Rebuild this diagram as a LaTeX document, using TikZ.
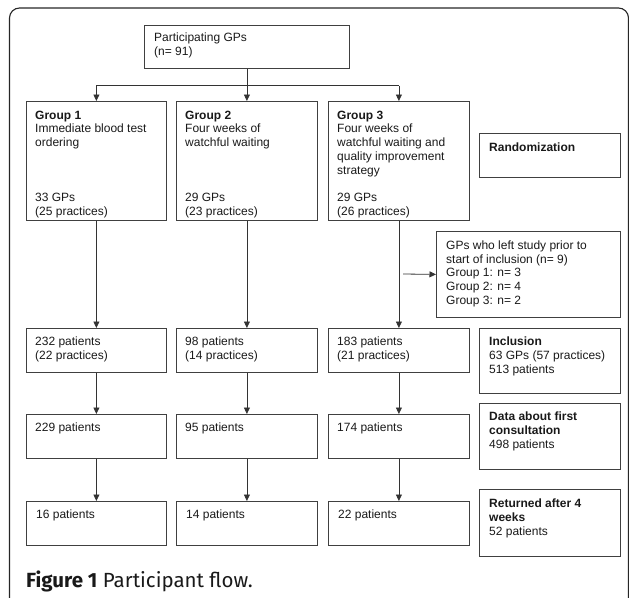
\documentclass[tikz,border=0pt]{standalone}
\usepackage{fontspec}
\setmainfont{Liberation Sans}
\newfontfamily\capfont{Fira Sans}
\usetikzlibrary{arrows.meta}
\begin{document}
\begin{tikzpicture}[x=1pt,y=-1pt,
  box/.style={draw=black!75, line width=0.8pt, anchor=north west, inner sep=0pt},
  txt/.style={anchor=north west, inner sep=0pt, align=left, font=\fontsize{12}{13.8}\selectfont, text=black!90},
  arr/.style={draw=black!80, line width=0.8pt, -{Triangle[length=6.5pt,width=6pt]}},
  ln/.style={draw=black!80, line width=0.8pt},
  frame/.style={draw=black!85, line width=1.1pt, rounded corners=10pt}]
\useasboundingbox (0,0) rectangle (629,597);
% outer frame (open at the bottom)
\draw[frame] (9.5,610) -- (9.5,8) -- (628.5,8) -- (628.5,610);

% boxes
\node[box, minimum width=205pt, minimum height=43pt] (top) at (144,25) {};
\node[box, minimum width=140pt, minimum height=119pt] (g1) at (26,101) {};
\node[box, minimum width=141pt, minimum height=119pt] (g2) at (176,101) {};
\node[box, minimum width=141pt, minimum height=119pt] (g3) at (328,101) {};
\node[box, minimum width=141pt, minimum height=44pt] (rand) at (479,133) {};
\node[box, minimum width=184pt, minimum height=86pt] (left) at (436,231) {};
\node[box, minimum width=140pt, minimum height=44pt] (i1) at (26,328) {};
\node[box, minimum width=141pt, minimum height=44pt] (i2) at (176,328) {};
\node[box, minimum width=141pt, minimum height=44pt] (i3) at (328,328) {};
\node[box, minimum width=141pt, minimum height=65pt] (incl) at (479,328) {};
\node[box, minimum width=140pt, minimum height=44pt] (d1) at (26,414) {};
\node[box, minimum width=141pt, minimum height=44pt] (d2) at (176,414) {};
\node[box, minimum width=141pt, minimum height=44pt] (d3) at (328,414) {};
\node[box, minimum width=141pt, minimum height=66pt] (data) at (479,403) {};
\node[box, minimum width=140pt, minimum height=44pt] (r1) at (26,501) {};
\node[box, minimum width=141pt, minimum height=44pt] (r2) at (176,501) {};
\node[box, minimum width=141pt, minimum height=44pt] (r3) at (328,501) {};
\node[box, minimum width=141pt, minimum height=67pt] (ret) at (479,489) {};

% texts
\node[txt] (topt) at ([shift={(10,7.5)}]top.north west) {Participating GPs\\(n= 91)};
\node[txt] (g1t) at ([shift={(9,9.5)}]g1.north west) {\textbf{Group 1}\\Immediate blood test\\ordering\\[41.4pt]33 GPs\\(25 practices)};
\node[txt] (g2t) at ([shift={(9,9.5)}]g2.north west) {\textbf{Group 2}\\Four weeks of\\watchful waiting\\[41.4pt]29 GPs\\(23 practices)};
\node[txt] (g3t) at ([shift={(9,9.5)}]g3.north west) {\textbf{Group 3}\\Four weeks of\\watchful waiting and\\quality improvement\\strategy\\[13.8pt]29 GPs\\(26 practices)};
\node[txt] (randt) at ([shift={(10,10)}]rand.north west) {\textbf{Randomization}};
\node[txt] (leftt) at ([shift={(10,9.5)}]left.north west) {GPs who left study prior to\\start of inclusion (n= 9)\\Group 1: n= 3\\Group 2: n= 4\\Group 3: n= 2};
\node[txt] (i1t) at ([shift={(9,9)}]i1.north west) {232 patients\\(22 practices)};
\node[txt] (i2t) at ([shift={(9,9)}]i2.north west) {98 patients\\(14 practices)};
\node[txt] (i3t) at ([shift={(9,9)}]i3.north west) {183 patients\\(21 practices)};
\node[txt] (inclt) at ([shift={(10,9)}]incl.north west) {\textbf{Inclusion}\\63 GPs (57 practices)\\513 patients};
\node[txt] (d1t) at ([shift={(9,9)}]d1.north west) {229 patients};
\node[txt] (d2t) at ([shift={(9,9)}]d2.north west) {95 patients};
\node[txt] (d3t) at ([shift={(9,9)}]d3.north west) {174 patients};
\node[txt] (datat) at ([shift={(10,9)}]data.north west) {\textbf{Data about first}\\\textbf{consultation}\\498 patients};
\node[txt] (r1t) at ([shift={(10,9)}]r1.north west) {16 patients};
\node[txt] (r2t) at ([shift={(10,9)}]r2.north west) {14 patients};
\node[txt] (r3t) at ([shift={(10,9)}]r3.north west) {22 patients};
\node[txt] (rett) at ([shift={(10,10)}]ret.north west) {\textbf{Returned after 4}\\\textbf{weeks}\\52 patients};

% connectors
\coordinate (split) at ([yshift=-17pt]top.south);
\coordinate (s1) at (g1.north |- split);
\coordinate (s3) at (g3.north |- split);
\draw[ln] (top.south) -- (split);
\draw[ln] (s1) -- (s3);
\draw[arr] (s1) -- (g1.north);
\draw[arr] (split) -- (g2.north);
\draw[arr] (s3) -- (g3.north);
\draw[arr] (g1.south) -- (i1.north);
\draw[arr] (g2.south) -- (i2.north);
\draw[arr] (g3.south) -- (i3.north);
\draw[arr] (i1.south) -- (d1.north);
\draw[arr] (i2.south) -- (d2.north);
\draw[arr] (i3.south) -- (d3.north);
\draw[arr] (d1.south) -- (r1.north);
\draw[arr] (d2.south) -- (r2.north);
\draw[arr] (d3.south) -- (r3.north);
\coordinate (la) at (403,274);
\draw[arr] (la) -- (left.west);

% caption
\node[anchor=base west, inner sep=0pt, font=\capfont\fontsize{20.5}{24}\selectfont, text=black!90] (cap) at (26,587) {\textbf{Figure 1} Participant flow.};
\end{tikzpicture}
\end{document}
